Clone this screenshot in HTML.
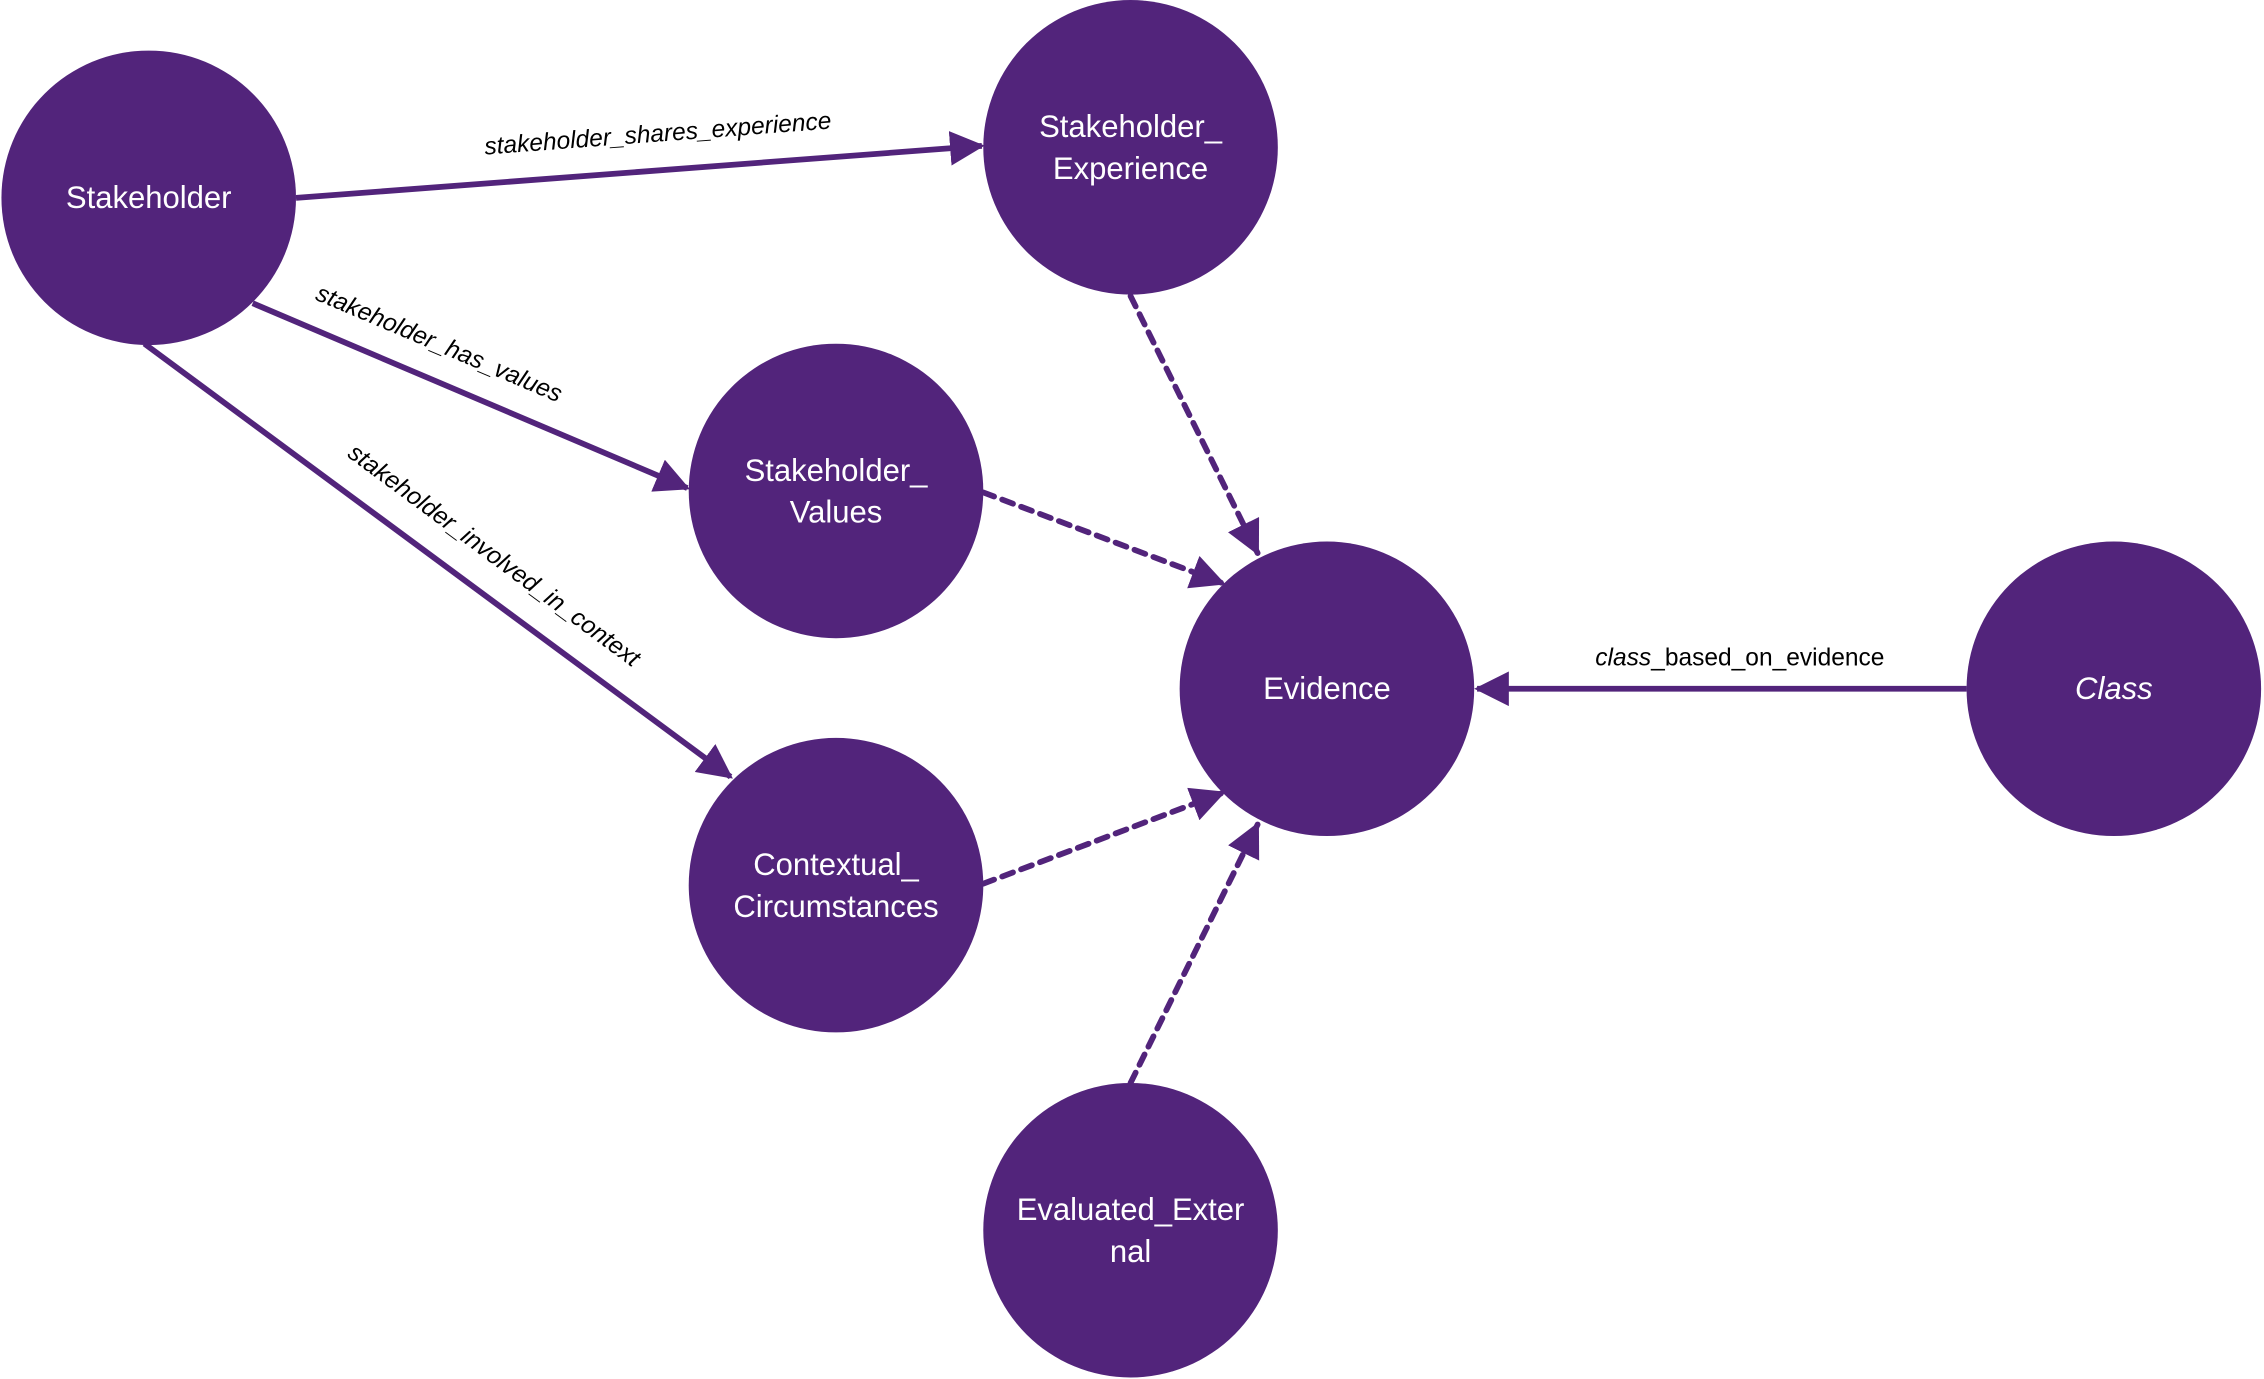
<!DOCTYPE html>
<html><head><meta charset="utf-8"><style>html,body{margin:0;padding:0;background:#fff}svg{display:block}</style></head>
<body>
<svg width="2264" height="1379" viewBox="0 0 1568 955" xmlns="http://www.w3.org/2000/svg" font-family="'Liberation Sans', sans-serif">
<defs>
<marker id="a" markerWidth="6" markerHeight="6" refX="5.5" refY="3" orient="auto" markerUnits="strokeWidth"><path d="M0,0 L6,3 L0,6 Z" fill="#52247b"/></marker>
</defs>
<g stroke="#52247b" stroke-width="4" fill="none">
<line x1="205" y1="137" x2="680" y2="101" marker-end="url(#a)"/>
<line x1="175" y1="210" x2="476" y2="338" marker-end="url(#a)"/>
<line x1="100" y1="238" x2="506" y2="538" marker-end="url(#a)"/>
<line x1="1362" y1="477" x2="1023" y2="477" marker-end="url(#a)"/>
<g stroke-dasharray="8 6" stroke-linecap="round">
<line x1="783" y1="205" x2="871" y2="383" marker-end="url(#a)"/>
<line x1="681" y1="341" x2="847" y2="404" marker-end="url(#a)"/>
<line x1="681" y1="612" x2="847" y2="549" marker-end="url(#a)"/>
<line x1="783" y1="750" x2="871" y2="571" marker-end="url(#a)"/>
</g>
</g>
<g fill="#52247b">
<circle cx="103" cy="137" r="102"/>
<circle cx="783" cy="102" r="102"/>
<circle cx="579" cy="340" r="102"/>
<circle cx="919" cy="477" r="102"/>
<circle cx="1464" cy="477" r="102"/>
<circle cx="579" cy="613" r="102"/>
<circle cx="783" cy="852" r="102"/>
</g>
<g fill="#fff" font-size="21.5" text-anchor="middle">
<text x="103" y="144">Stakeholder</text>
<text x="783" y="95">Stakeholder_</text><text x="783" y="124">Experience</text>
<text x="579" y="333">Stakeholder_</text><text x="579" y="362">Values</text>
<text x="919" y="484">Evidence</text>
<text x="1464" y="484" font-style="italic">Class</text>
<text x="579" y="606">Contextual_</text><text x="579" y="635">Circumstances</text>
<text x="783" y="845">Evaluated_Exter</text><text x="783" y="874">nal</text>
</g>
<g fill="#000" font-size="17" text-anchor="middle" font-style="italic">
<text transform="translate(456,98) rotate(-4.3)">stakeholder_shares_experience</text>
<text transform="translate(302,243) rotate(23)">stakeholder_has_values</text>
<text transform="translate(339,389) rotate(36.5)">stakeholder_involved_in_context</text>
<text x="1205" y="461" font-style="normal"><tspan font-style="italic">class</tspan>_based_on_evidence</text>
</g>
</svg>
</body></html>
